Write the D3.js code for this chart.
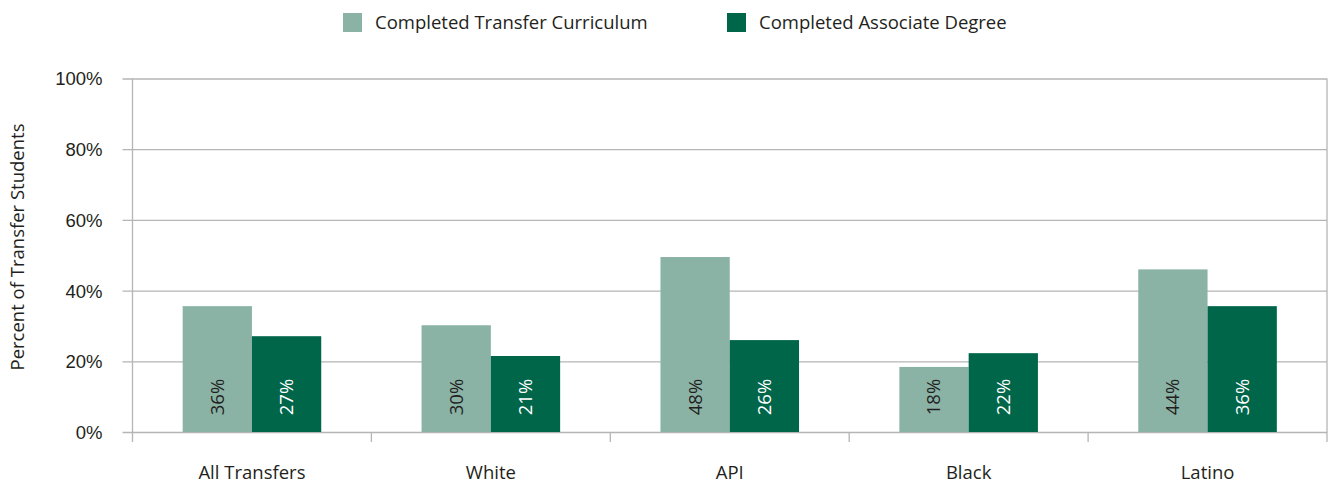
<!DOCTYPE html>
<html>
<head>
<meta charset="utf-8">
<script src="https://cdn.jsdelivr.net/npm/d3@7"></script>
<style>
  html, body { margin: 0; padding: 0; background: #fff; }
  svg { display: block; font-family: "Open Sans", Lato, sans-serif; }
</style>
</head>
<body>
<svg id="chart"></svg>
<script>
// data
const categories = ['All Transfers', 'White', 'API', 'Black', 'Latino'];
const seriesNames = ['Completed Transfer Curriculum', 'Completed Associate Degree'];
const transferCurriculum = [35.6, 30.2, 49.5, 18.4, 46.0];
const associateDegree    = [27.1, 21.5, 26.0, 22.3, 35.6];
const transferLabels  = ['36%', '30%', '48%', '18%', '44%'];
const associateLabels = ['27%', '21%', '26%', '22%', '36%'];
const yTicks = [0, 20, 40, 60, 80, 100];

const W = 1332, H = 482;
const C_LIGHT = '#8ab3a6';
const C_DARK  = '#00664a';
const C_GRID  = '#b5b5b5';
const C_TEXT  = '#231f20';
const FS = '18.5px';

const svg = d3.select('#chart').attr('width', W).attr('height', H);

const m = { left: 132.5, right: 1327, top: 78.5, bottom: 432 };

const x = d3.scaleBand().domain(categories).range([m.left, m.right]).padding(0);
const y = d3.scaleLinear().domain([0, 100]).range([m.bottom, m.top]);
const barW = x.bandwidth() * 0.29;

// gridlines + y ticks
const yAxis = d3.axisLeft(y).tickValues(yTicks).tickSize(-(m.right - m.left)).tickFormat(d => d + '%');
const gy = svg.append('g').attr('transform', `translate(${m.left},0)`).call(yAxis);
gy.select('.domain').remove();
gy.selectAll('.tick line').attr('x1', -10).attr('stroke', C_GRID).attr('stroke-width', 1.3);
gy.selectAll('.tick text').attr('x', -30).attr('fill', C_TEXT)
  .style('font-size', FS).attr('dy', '0.35em');

// left + right vertical axis lines
[m.left, m.right].forEach(px => {
  svg.append('line').attr('x1', px).attr('x2', px).attr('y1', m.top).attr('y2', m.bottom + 10)
    .attr('stroke', C_GRID).attr('stroke-width', 1.3);
});

// category ticks
svg.append('g').selectAll('line')
  .data(categories.slice(1))
  .join('line')
  .attr('x1', d => x(d)).attr('x2', d => x(d))
  .attr('y1', m.bottom).attr('y2', m.bottom + 10)
  .attr('stroke', C_GRID).attr('stroke-width', 1.3);

// category labels
svg.append('g').selectAll('text')
  .data(categories)
  .join('text')
  .attr('x', d => x(d) + x.bandwidth() / 2)
  .attr('y', 478.5)
  .attr('text-anchor', 'middle')
  .attr('fill', C_TEXT)
  .style('font-size', FS)
  .text(d => d);

// bars
const series = [
  { vals: transferCurriculum, labels: transferLabels, color: C_LIGHT, txt: C_TEXT, off: -1 },
  { vals: associateDegree,    labels: associateLabels, color: C_DARK,  txt: '#ffffff', off: 0 },
];
series.forEach(s => {
  const g = svg.append('g');
  g.selectAll('rect')
    .data(categories)
    .join('rect')
    .attr('x', (d, i) => x(d) + x.bandwidth() / 2 + s.off * barW)
    .attr('width', barW)
    .attr('y', (d, i) => y(s.vals[i]))
    .attr('height', (d, i) => y(0) - y(s.vals[i]))
    .attr('fill', s.color);
  g.selectAll('text')
    .data(categories)
    .join('text')
    .attr('transform', (d, i) => {
      const cx = x(d) + x.bandwidth() / 2 + s.off * barW + barW / 2;
      return `translate(${cx},397) rotate(-90)`;
    })
    .attr('text-anchor', 'middle')
    .attr('dy', '0.35em')
    .attr('fill', s.txt)
    .style('font-size', FS)
    .text((d, i) => s.labels[i]);
});

// y axis title
svg.append('text')
  .attr('transform', 'translate(18,247) rotate(-90)')
  .attr('text-anchor', 'middle')
  .attr('dy', '0.35em')
  .attr('fill', C_TEXT)
  .style('font-size', FS)
  .text('Percent of Transfer Students');

// legend
const legendX = [343, 727];
seriesNames.forEach((name, i) => {
  const lg = svg.append('g').attr('transform', `translate(${legendX[i]},13)`);
  lg.append('rect').attr('width', 19).attr('height', 19).attr('fill', i === 0 ? C_LIGHT : C_DARK);
  lg.append('text').attr('x', 32).attr('y', 9.5).attr('dy', '0.35em')
    .attr('fill', C_TEXT).style('font-size', FS).text(name);
});
</script>
</body>
</html>
